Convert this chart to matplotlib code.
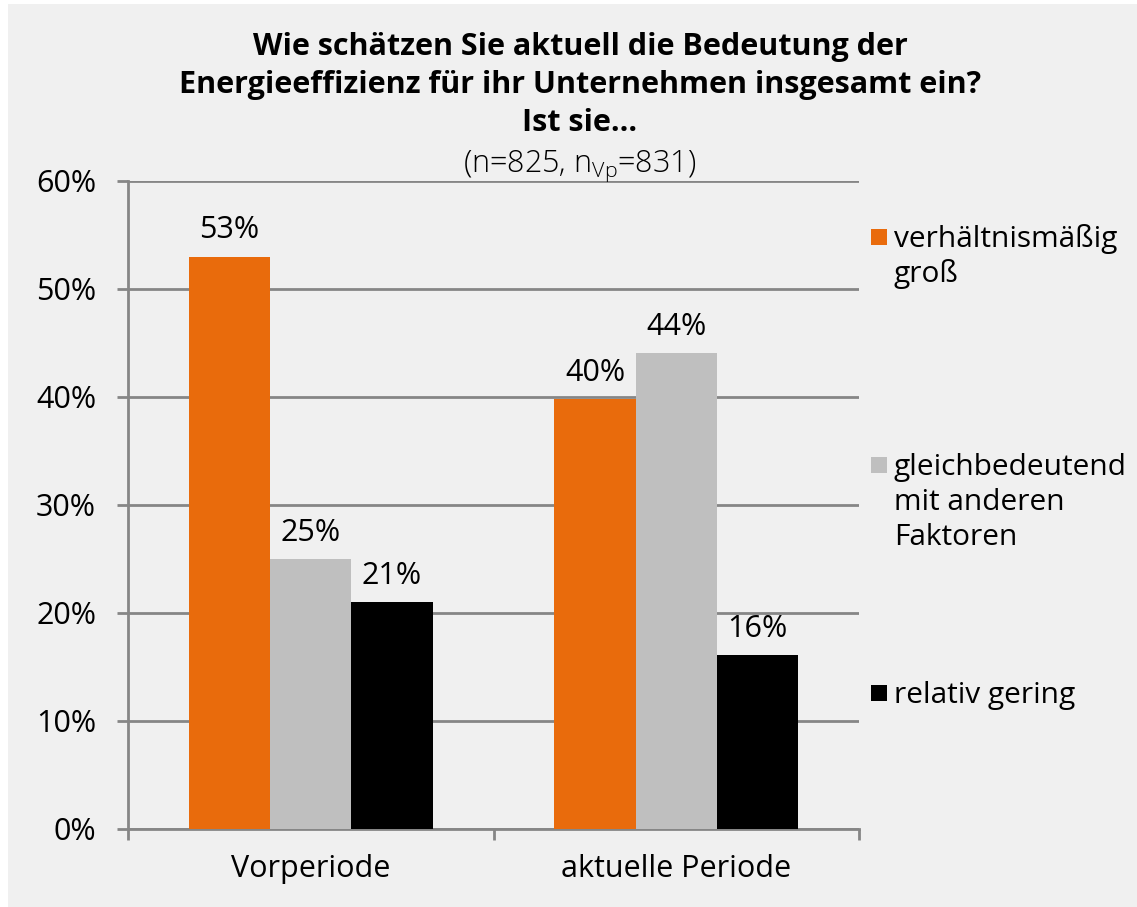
import matplotlib
matplotlib.use("Agg")
import matplotlib.pyplot as plt
from matplotlib.patches import Rectangle
import numpy as np

categories = ["Vorperiode", "aktuelle Periode"]
series_names = ["verhältnismäßig\ngroß", "gleichbedeutend\nmit anderen\nFaktoren", "relativ gering"]
values = {
    "groß": [53.0, 39.8],
    "gleich": [25.0, 44.1],
    "gering": [21.0, 16.1],
}
labels = {
    "groß": ["53%", "40%"],
    "gleich": ["25%", "44%"],
    "gering": ["21%", "16%"],
}
yticks = [0, 10, 20, 30, 40, 50, 60]
title_lines = ["Wie schätzen Sie aktuell die Bedeutung der",
               "Energieeffizienz für ihr Unternehmen insgesamt ein?",
               "Ist sie..."]
subtitle = r"(n=825, n$_{\mathrm{Vp}}$=831)"
colors = ["#E96B0C", "#BFBFBF", "#000000"]

FONT = "Open Sans"
plt.rcParams["font.family"] = [FONT, "DejaVu Sans"]
plt.rcParams["mathtext.fontset"] = "custom"
plt.rcParams["mathtext.rm"] = "Open Sans:light"
plt.rcParams["mathtext.it"] = "Open Sans:light"

FS = 22
W, H = 1137, 907
fig = plt.figure(figsize=(W / 100, H / 100), dpi=100, facecolor="white")
fig.patches.append(Rectangle((8 / W, 0), 1, 1 - 4 / H, transform=fig.transFigure,
                             facecolor="#F0F0F0", edgecolor="none", zorder=-10))

ax = fig.add_axes([128 / W, 1 - 829 / H, (859 - 128) / W, (829 - 181) / H])
ax.set_facecolor("none")

x = np.arange(len(categories))
bw = 0.2222
keys = list(values.keys())
for i, k in enumerate(keys):
    bars = ax.bar(x + (i - 1) * bw, values[k], width=bw, color=colors[i],
                  edgecolor="none", zorder=3)
    ax.bar_label(bars, labels=labels[k], padding=8, fontsize=FS, color="black")

ax.set_xlim(-0.5, 1.5)
ax.set_ylim(0, 60)
ax.set_yticks(yticks)
ax.set_yticklabels([f"{v}%" for v in yticks], fontsize=FS)
ax.set_xticks([-0.5, 0.5, 1.5], minor=False)
ax.set_xticklabels([])
ax.set_xticks(x, minor=True)
ax.set_xticklabels(categories, minor=True, fontsize=FS)
ax.tick_params(axis="x", which="minor", length=0, pad=18)
ax.tick_params(axis="x", which="major", length=8, width=2, color="#868686", direction="out")
ax.tick_params(axis="y", length=8, width=2, color="#868686", pad=15)
ax.grid(axis="y", color="#868686", linewidth=2, zorder=0)
for s in ["top", "right"]:
    ax.spines[s].set_visible(False)
for s in ["left", "bottom"]:
    ax.spines[s].set_color("#868686")
    ax.spines[s].set_linewidth(2)

for j, line in enumerate(title_lines):
    fig.text(580 / W, 1 - (55 + 38 * j) / H, line, ha="center", va="baseline",
             fontsize=22, fontweight="bold")
fig.text(580 / W, 1 - 172 / H, subtitle, ha="center", va="baseline",
         fontsize=22, fontweight="light")

leg_y = [237, 465, 693]
for i, name in enumerate(series_names):
    yc = leg_y[i]
    fig.patches.append(Rectangle((871 / W, 1 - (yc + 8) / H), 16 / W, 16 / H,
                                 transform=fig.transFigure, facecolor=colors[i], edgecolor="none"))
    for j, line in enumerate(name.split("\n")):
        fig.text(894 / W, 1 - (yc + 10 + 35 * j) / H, line, ha="left", va="baseline",
                 fontsize=21.5)

fig.savefig("out.png", dpi=100, facecolor=fig.get_facecolor())
